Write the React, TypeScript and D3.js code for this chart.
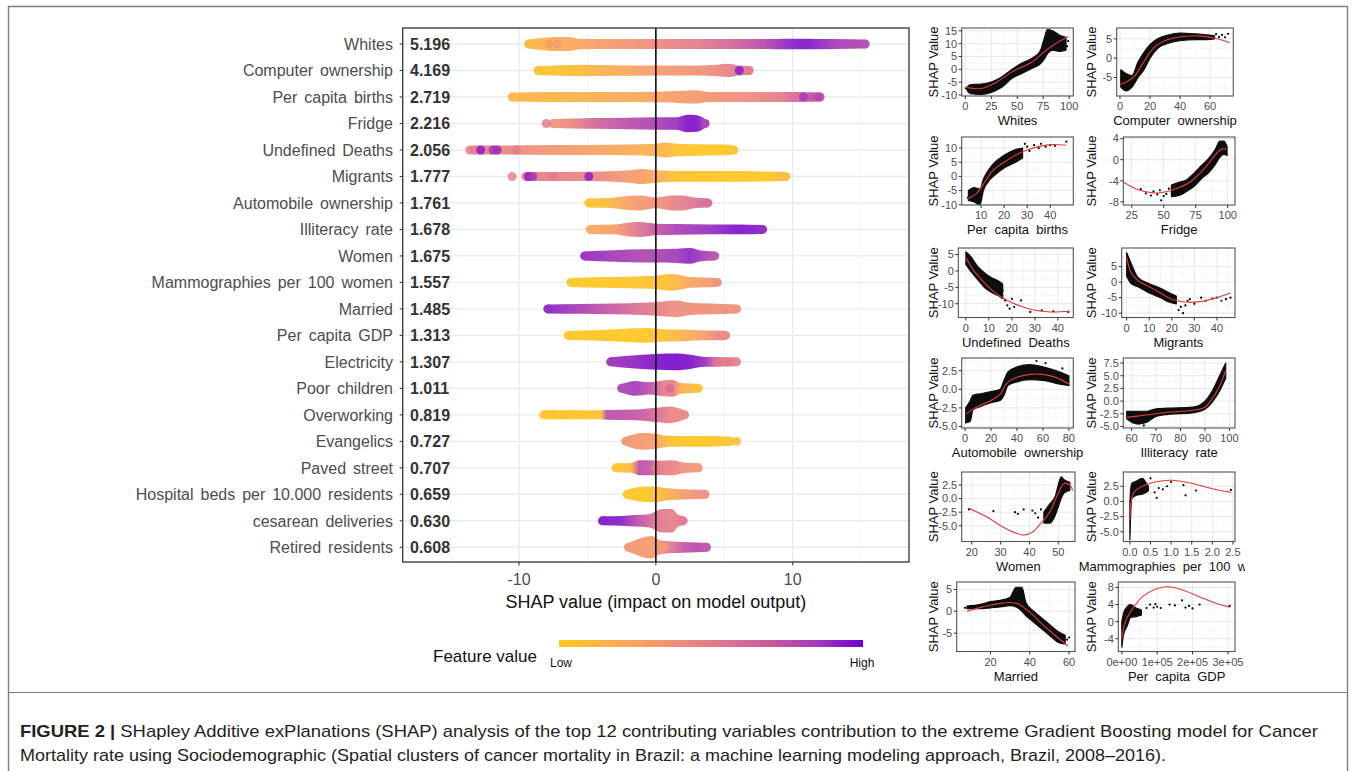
import React from "react";
import * as d3 from "d3";

// ---------- SHAP summary (left) ----------
const FEATURES = [
  "Whites", "Computer ownership", "Per capita births", "Fridge", "Undefined Deaths",
  "Migrants", "Automobile ownership", "Illiteracy rate", "Women", "Mammographies per 100 women",
  "Married", "Per capita GDP", "Electricity", "Poor children", "Overworking",
  "Evangelics", "Paved street", "Hospital beds per 10.000 residents", "cesarean deliveries", "Retired residents",
];
const MEAN_SHAP = [
  "5.196", "4.169", "2.719", "2.216", "2.056", "1.777", "1.761", "1.678", "1.675", "1.557",
  "1.485", "1.313", "1.307", "1.011", "0.819", "0.727", "0.707", "0.659", "0.630", "0.608",
];
const SHAP_TICKS = [-10, 0, 10];

// swarm profiles: [shap value, point density 0..1, feature value 0..1]
const WHITES_SWARM = [[-9.3,0,0.12],[-8.5,0.15,0.15],[-7.5,0.3,0.2],[-6.5,0.3,0.22],[-5.5,0.1,0.25],[-3,0.05,0.33],[0,0.05,0.42],[3,0.05,0.5],[5.5,0.05,0.62],[8,0.05,0.78],[9.5,0.1,0.9],[11,0.1,0.95],[13,0.05,0.85],[15.3,0,0.8]];
const COMPUTER_SWARM = [[-8.6,0,0.05],[-7,0.1,0.06],[-5.5,0.15,0.1],[-3,0.1,0.2],[0,0.05,0.3],[3,0.05,0.36],[4.5,0.15,0.42],[5.3,0.25,0.46],[6,0.05,0.55],[6.8,0,0.5]];
const BIRTHS_SWARM = [[-10.5,0,0.12],[-8,0.05,0.14],[-4,0.05,0.18],[0,0.1,0.25],[2,0.2,0.3],[2.8,0.25,0.32],[4,0.05,0.36],[7,0.05,0.42],[9,0.05,0.5],[10.5,0.05,0.62],[12,0,0.72]];
const FRIDGE_SWARM = [[-7.5,0,0.35],[-6,0.05,0.45],[-4.5,0.1,0.62],[-2,0.15,0.75],[0,0.2,0.82],[1.5,0.2,0.88],[2.3,0.5,0.95],[3,0.45,0.95],[3.6,0,0.85]];
const DEATHS_SWARM = [[-13.3,0,0.5],[-11,0,0.45],[-8,0.05,0.35],[-5,0.05,0.28],[-2,0.1,0.2],[0,0.2,0.15],[0.7,0.35,0.13],[1.5,0.2,0.05],[3,0.15,0.02],[5,0.1,0.02],[5.7,0,0.05]];
const MIGRANTS_SWARM = [[-9.5,0,0.5],[-7,0,0.48],[-4,0.05,0.42],[-2,0.2,0.32],[-1,0.35,0.28],[0,0.2,0.2],[1.5,0.1,0.05],[5,0.1,0.02],[8,0.05,0.02],[9.5,0,0.1]];
const AUTO_SWARM = [[-4.9,0,0.05],[-3.5,0.05,0.1],[-2,0.3,0.28],[-1.2,0.35,0.32],[0,0.1,0.38],[1.2,0.35,0.45],[2,0.35,0.5],[2.8,0.1,0.55],[3.8,0,0.62]];
const ILLIT_SWARM = [[-4.8,0,0.22],[-3,0.05,0.3],[-2,0.3,0.45],[-1.2,0.35,0.55],[0,0.15,0.7],[1.5,0.1,0.82],[4,0.05,0.88],[6,0.05,0.95],[7.8,0,0.92]];
const WOMEN_SWARM = [[-5.2,0,0.9],[-3,0.15,0.85],[-1,0.25,0.8],[0,0.25,0.82],[1.5,0.3,0.85],[2.5,0.4,0.9],[3.3,0.1,0.85],[4.3,0,0.75]];
const MAMMO_SWARM = [[-6.2,0,0.02],[-4,0.1,0.02],[-2,0.15,0.03],[0,0.25,0.05],[1,0.45,0.08],[1.5,0.4,0.12],[2.5,0.1,0.25],[3.5,0.05,0.3],[4.5,0,0.38]];
const MARRIED_SWARM = [[-7.9,0,0.92],[-5.5,0.05,0.82],[-3,0.1,0.68],[-1,0.2,0.55],[0.5,0.35,0.45],[1.5,0.45,0.4],[2.5,0.2,0.38],[4,0.1,0.38],[5.9,0,0.4]];
const GDP_SWARM = [[-6.4,0,0.02],[-4,0.1,0.02],[-1.5,0.3,0.02],[-0.7,0.35,0.03],[0.5,0.2,0.05],[2,0.15,0.15],[3.5,0.05,0.3],[4.5,0.05,0.45],[5.1,0,0.45]];
const ELEC_SWARM = [[-3.3,0,0.88],[-2,0.2,0.9],[0,0.4,0.95],[1.5,0.45,0.97],[2.5,0.3,0.95],[3.6,0.05,0.88],[4.5,0.05,0.55],[5.9,0,0.5]];
const POOR_SWARM = [[-2.5,0,0.82],[-1.5,0.35,0.85],[-0.5,0.2,0.75],[0.5,0.4,0.5],[1.3,0.45,0.48],[1.8,0.1,0.2],[3.1,0,0.05]];
const OVERWORK_SWARM = [[-8.2,0,0.03],[-6,0,0.03],[-4,0,0.05],[-3.6,0.05,0.75],[-1.5,0.1,0.72],[0,0.3,0.6],[1,0.45,0.45],[2.1,0,0.45]];
const EVANG_SWARM = [[-2.2,0,0.35],[-1,0.45,0.33],[-0.2,0.4,0.3],[0.8,0.15,0.12],[1.5,0.1,0.02],[4,0.1,0.02],[5.4,0,0.05]];
const PAVED_SWARM = [[-2.9,0,0.05],[-1.8,0.05,0.1],[-1.2,0.35,0.75],[-0.4,0.35,0.7],[0.4,0.3,0.5],[1.2,0.35,0.45],[2,0.1,0.4],[3.1,0,0.35]];
const HOSP_SWARM = [[-2.1,0,0.02],[-1,0.35,0.02],[0,0.4,0.05],[0.7,0.2,0.15],[1.5,0.1,0.25],[2.5,0.05,0.35],[3.6,0,0.4]];
const CESAR_SWARM = [[-3.9,0,0.95],[-2.5,0.05,0.92],[-1.5,0.15,0.78],[-0.5,0.25,0.62],[0.5,0.85,0.5],[1.2,0.85,0.48],[1.6,0.2,0.5],[2,0,0.55]];
const RETIRED_SWARM = [[-2,0,0.35],[-1,0.6,0.32],[-0.3,0.8,0.3],[0.3,0.3,0.4],[1.2,0.15,0.55],[2,0.1,0.7],[3,0.05,0.78],[3.7,0,0.75]];

// single visible points: [row, shap value, feature value]
const LOOSE_POINTS = [
  [0,-7.2,0.3],[0,-7.8,0.28],[1,6.1,0.92],[1,6.8,0.5],[2,10.8,0.85],[2,11.4,0.7],[2,11.9,0.78],
  [3,-8,0.5],[4,-13.6,0.5],[4,-12.8,0.92],[4,-11.9,0.85],[4,-11.6,0.88],[4,-10.2,0.5],
  [5,-10.5,0.45],[5,-9.3,0.92],[5,-9,0.85],[5,-4.9,0.92],[5,-7.5,0.5],
  [12,4.5,0.55],[12,5.2,0.5],[13,1,0.6],[14,-7.5,0.03],[14,-6.6,0.05],[15,5.9,0.1],[16,0,0.5],[19,0.6,0.3],
];

// ---------- dependence plots (right) ----------
// clouds: [x, lower SHAP, upper SHAP]; trends: [x, SHAP]; dots: [x, SHAP]
const WHITES_CLOUD = [[1.5,-8,-7],[5,-9.5,-6],[15,-9.8,-5.8],[25,-9,-5],[35,-7,-3],[45,-3.5,0],[55,-1.5,2.5],[65,0.5,4.5],[72,2,7],[76,4,12],[79,6,15.5],[84,7.5,15],[90,7,13.5],[97,7.5,12.5]];
const WHITES_TREND = [[0,-7],[15,-7.5],[30,-5],[45,-1],[55,1],[65,3],[75,6.5],[85,9.5],[99,12.8]];
const WHITES_DOTS = [[0.5,-7.3],[98,9],[99,11]];
const COMPUTER_CLOUD = [[0.5,-7.5,-3],[4,-8.5,-4],[8,-7.5,-4.5],[12,-5,-1],[16,-3,1.5],[20,0,3.5],[25,2.5,5],[32,3.8,6],[40,4.5,6.5],[50,4.8,6.3],[58,4.8,6],[63,5,5.8]];
const COMPUTER_TREND = [[0,-6.8],[5,-6],[10,-4.5],[15,-1.5],[20,1.5],[25,3.5],[32,4.8],[42,5.6],[55,5.7],[65,5],[73,4]];
const COMPUTER_DOTS = [[66,5.5],[68,6],[70,5.4],[72,6.3],[64,6.2]];
const BIRTHS_CLOUD = [[4.5,-8.5,-5],[7,-9,-4],[9.5,-10,-4.5],[11,-5,-1],[13,-2,2],[16,0.5,5],[20,3,7.5],[25,5,9.5],[28,6.5,10]];
const BIRTHS_TREND = [[4,-8],[8,-6],[12,-1.5],[15,2],[20,5],[25,7.5],[30,9.3],[35,10.5],[40,11.2],[47,11]];
const BIRTHS_DOTS = [[4.3,-7.5],[30,10.5],[31,9],[33,11],[35,10],[36,11.5],[38,10.5],[40,11],[42,10.8],[47,12.3],[29,11.5]];
const FRIDGE_CLOUD = [[56,-7,-4.8],[62,-6.8,-4.3],[68,-6,-3.8],[74,-5,-2.5],[80,-3.5,-1],[85,-2.5,0.2],[90,-1,1.8],[94,0.5,3.5],[97,1,3.5],[99.5,0.8,2.5]];
const FRIDGE_TREND = [[18,-4.2],[30,-5.7],[42,-6.3],[52,-6.1],[62,-5.3],[72,-4],[82,-1.6],[90,0.8],[95,2],[99,2]];
const FRIDGE_DOTS = [[17.5,-5.8],[32,-5.6],[36,-6.4],[40,-6.8],[42,-6],[45,-6.6],[47,-5.8],[48,-7.7],[50,-6.9],[52,-6.5],[54,-5.5]];
const DEATHS_CLOUD = [[0,2,5.8],[2,0,4.5],[5,-2.5,1.5],[8,-5,-0.5],[11,-6.5,-2],[14,-7.5,-3],[16,-8.5,-4]];
const DEATHS_TREND = [[0,4],[3,0.5],[6,-2],[10,-5],[15,-7.8],[20,-9.7],[25,-11],[30,-12],[37,-12.5],[45,-12.3]];
const DEATHS_DOTS = [[17,-9],[18,-10.5],[19,-11.5],[20,-8.5],[21,-11],[24,-9],[28,-12.5],[33,-12],[38,-12.3],[44.5,-12.5],[16,-6]];
const MIGRANTS_CLOUD = [[0,2,9.5],[2,-0.5,6],[5,-1.5,1.5],[10,-3.5,-0.5],[15,-5,-2],[19,-6.5,-3.5],[22,-7,-4.5]];
const MIGRANTS_TREND = [[0,8],[2,3],[5,0.5],[10,-1.5],[15,-3.5],[20,-5.5],[27,-6.5],[33,-6.2],[40,-5],[46,-3.5]];
const MIGRANTS_DOTS = [[23,-9],[25,-10],[24,-8],[27,-6],[30,-7],[28,-5.5],[33,-5],[35,-6],[38,-5.3],[40,-5],[42,-6],[44,-5.5],[46,-5],[26,-7.5]];
const AUTO_CLOUD = [[0.5,-4.5,-2.5],[4,-4.3,-1.5],[6,-2.8,-0.8],[12,-2.3,-0.6],[20,-1.8,-0.3],[27,-1.5,0],[30,-0.8,1.2],[33,0.5,2.3],[40,1,3],[50,1.3,3.3],[60,1.2,3],[70,0.8,2.5],[80,0.5,1.8]];
const AUTO_TREND = [[1,-3.3],[5,-2.8],[10,-2.3],[20,-1.5],[27,-0.7],[32,0.8],[40,1.6],[50,2],[60,2],[70,1.6],[81,0.6]];
const AUTO_DOTS = [[55,3.8],[62,3.5],[75,2.8]];
const ILLIT_CLOUD = [[58,-3.5,-2],[62,-4.5,-2],[66,-4.2,-2],[70,-3,-1.5],[75,-2.6,-1.4],[85,-2.3,-1.2],[90,-1.6,0],[93,-0.2,2],[96,2,5],[98.5,4.5,7.5]];
const ILLIT_TREND = [[58,-3.2],[65,-2.8],[75,-2.2],[85,-1.8],[90,-1.2],[93,0.5],[96,3],[98.5,6]];
const ILLIT_DOTS = [[58.5,-2.2],[63,-4.4],[65,-4.8]];
const WOMEN_CLOUD = [[45,-4.5,-2.5],[47,-4.5,-1],[49,-3,0.5],[50,-1.5,2.5],[51,0,4],[52,1,3.5],[54,1.5,3]];
const WOMEN_TREND = [[19,-1.8],[25,-3.3],[30,-5],[35,-6.3],[38,-6.7],[41,-6.2],[44,-4.5],[47,-2.5],[50,1],[52,2.8],[54,2.5],[55,1.5]];
const WOMEN_DOTS = [[19,-2],[27.5,-2.3],[35,-2.5],[36,-2.8],[38,-2],[41,-2.2],[42,-2.7],[43,-3.5],[44,-2]];
const MAMMO_CLOUD = [[0,-6.3,0],[0.02,-2,2],[0.05,0.5,3],[0.15,1,3.3],[0.3,1.2,3.8],[0.4,1.5,3],[0.45,1.8,2.5]];
const MAMMO_TREND = [[0,-3],[0.03,0],[0.1,1.5],[0.3,2.5],[0.6,3.2],[1,3.5],[1.5,3],[2,2.1],[2.45,1.5]];
const MAMMO_DOTS = [[0.5,3.8],[0.6,1.5],[0.7,2.2],[0.8,2],[0.9,2.5],[1,3.2],[1.3,2.7],[1.35,1],[1.6,1.8],[2.45,1.9],[0.65,0.6]];
const MARRIED_CLOUD = [[8,0.6,1.2],[15,0.6,1.6],[20,0.8,2.2],[25,1,2.5],[30,1.3,3.2],[33,1,5.5],[36,0,5.5],[38,-1,2],[42,-2.5,0],[46,-4,-1.5],[50,-5.5,-3],[54,-7,-4.5],[58,-7.5,-5.5]];
const MARRIED_TREND = [[8,0],[15,0.9],[20,1.4],[25,1.8],[30,2],[34,1.7],[38,0.5],[42,-1],[46,-2.8],[50,-4.4],[55,-6.3],[59.5,-8]];
const MARRIED_DOTS = [[7,0.8],[10,1.2],[12,1],[59,-6.5],[60,-6]];
const GDP_CLOUD = [[0,-6,0],[5000,-3,2],[15000,-1,3.5],[25000,1,4],[40000,1.2,3.2],[55000,1.5,2.8]];
const GDP_TREND = [[0,-4],[10000,0],[30000,3],[60000,6],[100000,7.8],[130000,8.2],[170000,7.5],[220000,5.8],[270000,4.2],[305000,3.4]];
const GDP_DOTS = [[70000,3.2],[80000,4],[90000,3.3],[95000,4.1],[100000,3.5],[110000,3.2],[135000,4],[150000,3.8],[170000,5],[180000,3.3],[190000,3.7],[200000,3.1],[220000,4],[305000,3.7]];

const DEP_TITLES = ["Whites","Computer  ownership","Per  capita  births","Fridge","Undefined  Deaths","Migrants","Automobile  ownership","Illiteracy  rate","Women","Mammographies  per  100  women","Married","Per  capita  GDP"];
const DEP_X_DOMAINS = [[-3.5,104],[-2.2,75.5],[1.6,50],[18.4,105.7],[-3.3,46.7],[-2.2,48],[-2.6,83.4],[56.6,102.3],[16.5,55.8],[-0.16,2.55],[2.8,63],[-10000,320000]];
const DEP_Y_DOMAINS = [[-10.4,16.1],[-9.8,7.8],[-10.1,13.9],[-8.6,4.3],[-14.2,7],[-11.4,11],[-5.2,4.2],[-5.3,8.5],[-7.9,4.9],[-6.6,4.85],[-9.2,6.7],[-7,9.3]];
const DEP_X_TICKS = [[0,25,50,75,100],[0,20,40,60],[10,20,30,40],[25,50,75,100],[0,10,20,30,40],[0,10,20,30,40],[0,20,40,60,80],[60,70,80,90,100],[20,30,40,50],[0,0.5,1,1.5,2,2.5],[20,40,60],[0,100000,200000,300000]];
const DEP_Y_TICKS = [[-10,-5,0,5,10,15],[-5,0,5],[-10,-5,0,5,10],[-8,-4,0,4],[-10,-5,0,5],[-10,-5,0,5],[-5,-2.5,0,2.5],[-5,-2.5,0,2.5,5,7.5],[-5,-2.5,0,2.5],[-5,-2.5,0,2.5],[-5,0,5],[-4,0,4,8]];
const DEP_CLOUDS = [WHITES_CLOUD,COMPUTER_CLOUD,BIRTHS_CLOUD,FRIDGE_CLOUD,DEATHS_CLOUD,MIGRANTS_CLOUD,AUTO_CLOUD,ILLIT_CLOUD,WOMEN_CLOUD,MAMMO_CLOUD,MARRIED_CLOUD,GDP_CLOUD];
const DEP_TRENDS = [WHITES_TREND,COMPUTER_TREND,BIRTHS_TREND,FRIDGE_TREND,DEATHS_TREND,MIGRANTS_TREND,AUTO_TREND,ILLIT_TREND,WOMEN_TREND,MAMMO_TREND,MARRIED_TREND,GDP_TREND];
const DEP_DOTS = [WHITES_DOTS,COMPUTER_DOTS,BIRTHS_DOTS,FRIDGE_DOTS,DEATHS_DOTS,MIGRANTS_DOTS,AUTO_DOTS,ILLIT_DOTS,WOMEN_DOTS,MAMMO_DOTS,MARRIED_DOTS,GDP_DOTS];

const SWARMS = [WHITES_SWARM,COMPUTER_SWARM,BIRTHS_SWARM,FRIDGE_SWARM,DEATHS_SWARM,MIGRANTS_SWARM,AUTO_SWARM,ILLIT_SWARM,WOMEN_SWARM,MAMMO_SWARM,MARRIED_SWARM,GDP_SWARM,ELEC_SWARM,POOR_SWARM,OVERWORK_SWARM,EVANG_SWARM,PAVED_SWARM,HOSP_SWARM,CESAR_SWARM,RETIRED_SWARM];

const CAPTION_1 = "SHapley Additive exPlanations (SHAP) analysis of the top 12 contributing variables contribution to the extreme Gradient Boosting model for Cancer";
const CAPTION_2 = "Mortality rate using Sociodemographic (Spatial clusters of cancer mortality in Brazil: a machine learning modeling approach, Brazil, 2008\u20132016).";

const FONT = "'Liberation Sans', Arial, sans-serif";
// feature-value colour ramp (low -> high)
const RAMP_AT = [0, 0.2, 0.4, 0.55, 0.7, 0.85, 1];
const RAMP_COLORS = ["#FFC81A", "#FCAA55", "#EF8C7B", "#DE7391", "#C957A2", "#A33AB9", "#6C00D4"];

// panel boxes [left, top, right, bottom]
const DEP_BOXES = [
  [961.7,28,1073.3,96],[1116.7,28,1233.3,96],
  [961.7,137,1073.3,205],[1123.3,137,1235,205],
  [958.3,248,1073.3,317.5],[1121.7,248,1235,317.5],
  [961.7,358,1073.3,428],[1123.3,358,1235,428],
  [961.7,472,1075,541.5],[1123.3,472,1235,541.5],
  [956.7,582,1075,651.5],[1118.3,582,1235,651.5],
];

function draw(svg) {
  const defs = svg.append("defs");
  const colorOf = d3.scaleLinear<string>().domain(RAMP_AT).range(RAMP_COLORS).interpolate(d3.interpolateRgb);

  svg.append("rect").attr("width", 1356).attr("height", 771).attr("fill", "#fff");
  // figure frame
  svg.append("path").attr("d", "M8.5,771 V6.5 H1347.5 V771").attr("fill", "none").attr("stroke", "#7f7f7f").attr("stroke-width", 1.4);
  svg.append("line").attr("x1", 8.5).attr("x2", 1347.5).attr("y1", 692.5).attr("y2", 692.5).attr("stroke", "#7f7f7f").attr("stroke-width", 1.2);

  // ---------- main panel ----------
  const P = { l: 402.7, r: 909, t: 28, b: 562 };
  const x = d3.scaleLinear().domain([-18.5, 18.5]).range([P.l, P.r]);
  const y = d3.scalePoint().domain(d3.range(FEATURES.length)).range([44, 547.3]);
  const half = d3.scaleLinear().domain([0, 1]).range([4.5, 13]);
  const main = svg.append("g");

  [-15, -5, 5, 15].forEach(v => main.append("line").attr("x1", x(v)).attr("x2", x(v)).attr("y1", P.t).attr("y2", P.b).attr("stroke", "#f2f2f2").attr("stroke-width", 0.8));
  SHAP_TICKS.forEach(v => main.append("line").attr("x1", x(v)).attr("x2", x(v)).attr("y1", P.t).attr("y2", P.b).attr("stroke", "#ebebeb").attr("stroke-width", 1.4));
  FEATURES.forEach((f, i) => main.append("line").attr("x1", P.l).attr("x2", P.r).attr("y1", y(i)).attr("y2", y(i)).attr("stroke", "#ebebeb").attr("stroke-width", 1.4));

  SWARMS.forEach((prof, i) => {
    const cy = y(i);
    const x0 = x(prof[0][0]), x1 = x(prof[prof.length - 1][0]);
    const gid = "sw" + i;
    const grad = defs.append("linearGradient").attr("id", gid).attr("gradientUnits", "userSpaceOnUse")
      .attr("x1", x0).attr("x2", x1).attr("y1", 0).attr("y2", 0);
    prof.forEach(d => grad.append("stop").attr("offset", (x(d[0]) - x0) / (x1 - x0)).attr("stop-color", colorOf(d[2])));
    const area = d3.area().x(d => x(d[0])).y0(d => cy + half(d[1])).y1(d => cy - half(d[1])).curve(d3.curveMonotoneX);
    const g = main.append("g").attr("opacity", 0.92);
    g.append("path").attr("d", area(prof)).attr("fill", `url(#${gid})`);
    [prof[0], prof[prof.length - 1]].forEach(d => g.append("circle").attr("cx", x(d[0])).attr("cy", cy).attr("r", half(0)).attr("fill", colorOf(d[2])));
  });
  LOOSE_POINTS.forEach(([r, s, c]) => main.append("circle").attr("cx", x(s)).attr("cy", y(r)).attr("r", 4.5).attr("fill", colorOf(c)).attr("opacity", 0.85));

  main.append("line").attr("x1", x(0)).attr("x2", x(0)).attr("y1", P.t).attr("y2", P.b).attr("stroke", "#000").attr("stroke-width", 1.5);
  main.append("rect").attr("x", P.l).attr("y", P.t).attr("width", P.r - P.l).attr("height", P.b - P.t).attr("fill", "none").attr("stroke", "#333").attr("stroke-width", 1.3);

  MEAN_SHAP.forEach((v, i) => main.append("text").attr("x", 410).attr("y", y(i)).attr("dy", "0.36em")
    .attr("font-family", FONT).attr("font-size", 16).attr("font-weight", "bold").attr("fill", "#333").text(v));
  FEATURES.forEach((f, i) => {
    main.append("line").attr("x1", P.l - 3).attr("x2", P.l).attr("y1", y(i)).attr("y2", y(i)).attr("stroke", "#333");
    main.append("text").attr("x", 393).attr("y", y(i)).attr("dy", "0.36em").attr("text-anchor", "end")
      .attr("font-family", FONT).attr("font-size", 16).attr("fill", "#4d4d4d").attr("word-spacing", 2.5).text(f);
  });
  SHAP_TICKS.forEach(v => {
    main.append("line").attr("x1", x(v)).attr("x2", x(v)).attr("y1", P.b).attr("y2", P.b + 3.5).attr("stroke", "#333");
    main.append("text").attr("x", x(v)).attr("y", 579).attr("dy", "0.36em").attr("text-anchor", "middle")
      .attr("font-family", FONT).attr("font-size", 16).attr("fill", "#4d4d4d").text(String(v));
  });
  main.append("text").attr("x", x(0)).attr("y", 602).attr("dy", "0.36em").attr("text-anchor", "middle")
    .attr("font-family", FONT).attr("font-size", 18).attr("fill", "#111").text("SHAP value (impact on model output)");

  // legend
  const lg = defs.append("linearGradient").attr("id", "legendGrad");
  RAMP_AT.forEach((t, k) => lg.append("stop").attr("offset", t).attr("stop-color", RAMP_COLORS[k]));
  main.append("rect").attr("x", 559).attr("y", 640).attr("width", 304).attr("height", 7).attr("fill", "url(#legendGrad)");
  main.append("text").attr("x", 433).attr("y", 656).attr("dy", "0.36em").attr("font-family", FONT).attr("font-size", 17).attr("fill", "#111").text("Feature value");
  main.append("text").attr("x", 561).attr("y", 663).attr("dy", "0.36em").attr("text-anchor", "middle").attr("font-family", FONT).attr("font-size", 12).attr("fill", "#111").text("Low");
  main.append("text").attr("x", 862).attr("y", 663).attr("dy", "0.36em").attr("text-anchor", "middle").attr("font-family", FONT).attr("font-size", 12).attr("fill", "#111").text("High");

  // ---------- dependence panels ----------
  defs.append("clipPath").attr("id", "figClip").append("rect").attr("x", 0).attr("y", 0).attr("width", 1245).attr("height", 771);
  DEP_BOXES.forEach((box, i) => {
    const [l, t, r, b] = box;
    const sx = d3.scaleLinear().domain(DEP_X_DOMAINS[i]).range([l, r]);
    const sy = d3.scaleLinear().domain(DEP_Y_DOMAINS[i]).range([b, t]);
    const xt = DEP_X_TICKS[i], yt = DEP_Y_TICKS[i];
    const g = svg.append("g").attr("clip-path", "url(#figClip)");
    const cid = "pc" + i;
    defs.append("clipPath").attr("id", cid).append("rect").attr("x", l).attr("y", t).attr("width", r - l).attr("height", b - t);
    const minor = (ticks, dom) => {
      const s = ticks[1] - ticks[0];
      const out = [];
      for (let k = -1; k <= ticks.length; k++) {
        const v = ticks[0] + s * k + s / 2;
        if (v > dom[0] && v < dom[1]) out.push(v);
      }
      return out;
    };
    g.append("rect").attr("x", l).attr("y", t).attr("width", r - l).attr("height", b - t).attr("fill", "#fff");
    minor(xt, DEP_X_DOMAINS[i]).forEach(v => g.append("line").attr("x1", sx(v)).attr("x2", sx(v)).attr("y1", t).attr("y2", b).attr("stroke", "#f2f2f2").attr("stroke-width", 0.7));
    minor(yt, DEP_Y_DOMAINS[i]).forEach(v => g.append("line").attr("x1", l).attr("x2", r).attr("y1", sy(v)).attr("y2", sy(v)).attr("stroke", "#f2f2f2").attr("stroke-width", 0.7));
    xt.forEach(v => g.append("line").attr("x1", sx(v)).attr("x2", sx(v)).attr("y1", t).attr("y2", b).attr("stroke", "#e8e8e8").attr("stroke-width", 1));
    yt.forEach(v => g.append("line").attr("x1", l).attr("x2", r).attr("y1", sy(v)).attr("y2", sy(v)).attr("stroke", "#e8e8e8").attr("stroke-width", 1));

    const inner = g.append("g").attr("clip-path", `url(#${cid})`);
    const cloud = d3.area().x(d => sx(d[0])).y0(d => sy(d[1])).y1(d => sy(d[2])).curve(d3.curveMonotoneX);
    inner.append("path").attr("d", cloud(DEP_CLOUDS[i])).attr("fill", "#0d0d0d").attr("stroke", "#0d0d0d").attr("stroke-width", 1.2).attr("stroke-linejoin", "round");
    DEP_DOTS[i].forEach(d => inner.append("circle").attr("cx", sx(d[0])).attr("cy", sy(d[1])).attr("r", 1.1).attr("fill", "#000"));
    const trend = d3.line().x(d => sx(d[0])).y(d => sy(d[1])).curve(d3.curveCatmullRom.alpha(0.5));
    inner.append("path").attr("d", trend(DEP_TRENDS[i])).attr("fill", "none").attr("stroke", "#e23b3b").attr("stroke-width", 1.1);

    g.append("rect").attr("x", l).attr("y", t).attr("width", r - l).attr("height", b - t).attr("fill", "none").attr("stroke", "#555").attr("stroke-width", 1.1);

    const yFmt = i >= 6 && i <= 9 ? (v) => v.toFixed(1) : (v) => String(v);
    const xFmt = i === 9 ? (v) => v.toFixed(1) : i === 11 ? (v) => (v === 0 ? "0e+00" : v.toExponential(0).replace("e+", "e+0")) : (v) => String(v);
    yt.forEach(v => {
      g.append("line").attr("x1", l - 3).attr("x2", l).attr("y1", sy(v)).attr("y2", sy(v)).attr("stroke", "#333");
      g.append("text").attr("x", l - 4.5).attr("y", sy(v)).attr("dy", "0.35em").attr("text-anchor", "end")
        .attr("font-family", FONT).attr("font-size", 11).attr("fill", "#4d4d4d").text(yFmt(v));
    });
    xt.forEach(v => {
      g.append("line").attr("x1", sx(v)).attr("x2", sx(v)).attr("y1", b).attr("y2", b + 3).attr("stroke", "#333");
      g.append("text").attr("x", sx(v)).attr("y", b + 10.5).attr("dy", "0.35em").attr("text-anchor", "middle")
        .attr("font-family", FONT).attr("font-size", 11).attr("fill", "#4d4d4d").text(xFmt(v));
    });
    const left = i % 2 === 0;
    g.append("text").attr("x", (l + r) / 2).attr("y", b + 24.5).attr("dy", "0.36em").attr("text-anchor", "middle")
      .attr("font-family", FONT).attr("font-size", 13).attr("fill", "#111").attr("xml:space", "preserve").text(DEP_TITLES[i]);
    const tx = left ? 933 : 1091.7;
    g.append("text").attr("transform", `translate(${tx},${(t + b) / 2}) rotate(-90)`).attr("dy", "0.36em").attr("text-anchor", "middle")
      .attr("font-family", FONT).attr("font-size", 13).attr("fill", "#111").text("SHAP Value");
  });

  // ---------- caption ----------
  const NARROW = "'Liberation Sans Narrow', 'Liberation Sans', Arial, sans-serif";
  const c1 = svg.append("text").attr("x", 20).attr("y", 737).attr("font-family", NARROW).attr("font-size", 17).attr("fill", "#231f20")
    .attr("textLength", 1298).attr("lengthAdjust", "spacingAndGlyphs");
  c1.append("tspan").attr("font-weight", "bold").text("FIGURE 2 | ");
  c1.append("tspan").text(CAPTION_1);
  svg.append("text").attr("x", 20).attr("y", 761).attr("font-family", NARROW).attr("font-size", 17).attr("fill", "#231f20")
    .attr("textLength", 1146).attr("lengthAdjust", "spacingAndGlyphs").text(CAPTION_2);
}

export default function App() {
  const ref = React.useRef(null);
  React.useEffect(() => {
    const svg = d3.select(ref.current);
    svg.selectAll("*").remove();
    draw(svg);
  }, []);
  return (
    <svg ref={ref} width={1356} height={771} style={{ position: "absolute", left: 0, top: 0, display: "block" }} />
  );
}
